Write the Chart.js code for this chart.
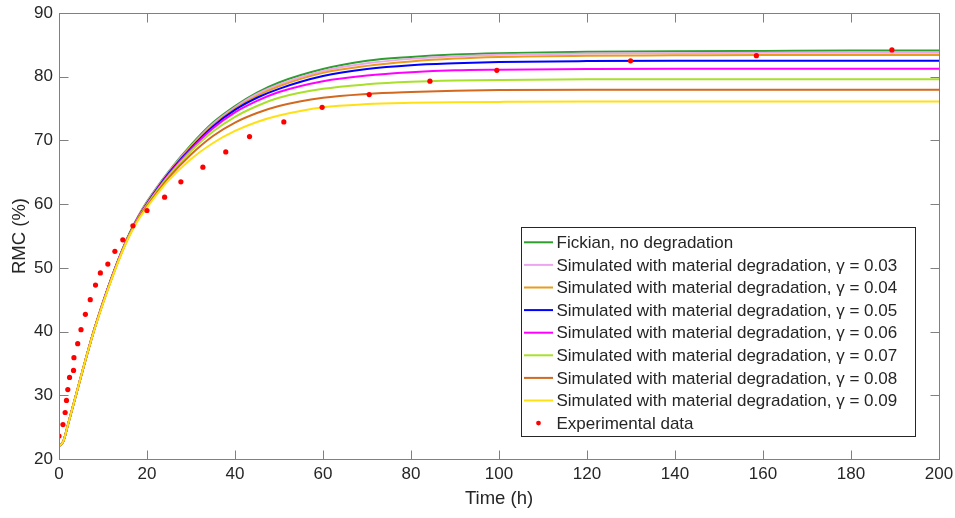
<!DOCTYPE html>
<html>
<head>
<meta charset="utf-8">
<script src="https://cdn.jsdelivr.net/npm/chart.js@4.4.1/dist/chart.umd.min.js"></script>
<style>
  html, body { margin: 0; padding: 0; background: #fff; }
  #wrap { width: 955px; height: 518px; }
</style>
</head>
<body>
<div id="wrap"><canvas id="c" width="955" height="518"></canvas></div>
<script>
// time grid of the simulated curves (h)
const times = [0, 1, 2, 4, 6, 8, 10, 12, 14, 16, 18, 20, 25, 30, 35, 40, 45, 50, 60, 70, 80, 90, 100, 120, 140, 160, 180, 200];

// simulated RMC (%) curves
const fickian = [22.0, 22.8, 25.3, 30.4, 35.5, 40.3, 44.6, 48.6, 52.2, 55.4, 58.1, 60.4, 65.2, 69.3, 72.8, 75.4, 77.5, 79.1, 81.2, 82.5, 83.1, 83.5, 83.7, 83.9, 84.0, 84.05, 84.1, 84.1];
const gamma003 = [22.0, 22.8, 25.3, 30.4, 35.5, 40.3, 44.6, 48.6, 52.2, 55.3, 58.0, 60.3, 65.1, 69.1, 72.6, 75.2, 77.3, 78.8, 80.9, 82.1, 82.8, 83.2, 83.45, 83.65, 83.7, 83.75, 83.75, 83.75];
const gamma004 = [22.0, 22.8, 25.3, 30.4, 35.5, 40.3, 44.6, 48.5, 52.1, 55.3, 58.0, 60.2, 65.0, 69.0, 72.4, 75.0, 77.0, 78.5, 80.6, 81.7, 82.4, 82.85, 83.1, 83.3, 83.35, 83.4, 83.4, 83.4];
const gamma005 = [22.0, 22.8, 25.3, 30.4, 35.5, 40.3, 44.6, 48.5, 52.1, 55.3, 57.9, 60.1, 64.9, 68.8, 72.2, 74.8, 76.7, 78.1, 80.1, 81.2, 81.8, 82.1, 82.3, 82.45, 82.5, 82.5, 82.5, 82.5];
const gamma006 = [22.0, 22.8, 25.3, 30.4, 35.5, 40.3, 44.6, 48.5, 52.1, 55.2, 57.9, 60.0, 64.7, 68.6, 71.9, 74.4, 76.2, 77.6, 79.3, 80.2, 80.7, 81.0, 81.1, 81.2, 81.25, 81.25, 81.25, 81.25];
const gamma007 = [22.0, 22.8, 25.3, 30.4, 35.5, 40.3, 44.5, 48.4, 52.0, 55.2, 57.8, 59.9, 64.5, 68.3, 71.4, 73.7, 75.4, 76.7, 78.1, 78.8, 79.2, 79.4, 79.5, 79.6, 79.6, 79.6, 79.6, 79.6];
const gamma008 = [22.0, 22.8, 25.3, 30.4, 35.5, 40.3, 44.5, 48.4, 52.0, 55.1, 57.7, 59.7, 64.2, 67.8, 70.7, 72.8, 74.3, 75.4, 76.7, 77.3, 77.6, 77.8, 77.9, 77.95, 77.95, 77.95, 77.95, 77.95];
const gamma009 = [22.0, 22.8, 25.3, 30.4, 35.5, 40.2, 44.4, 48.3, 51.9, 55.0, 57.5, 59.5, 63.8, 67.1, 69.6, 71.5, 72.9, 73.9, 75.2, 75.7, 75.9, 76.0, 76.05, 76.1, 76.1, 76.1, 76.1, 76.1];

// experimental data
const expTime = [0, 0.9, 1.4, 1.7, 2.0, 2.4, 3.3, 3.4, 4.25, 5.0, 6.0, 7.1, 8.3, 9.4, 11.1, 12.7, 14.5, 16.8, 20.0, 24.0, 27.7, 32.7, 37.9, 43.3, 51.1, 59.8, 70.5, 84.3, 99.5, 129.9, 158.5, 189.3];
const expRMC = [23.6, 25.4, 27.3, 29.2, 30.9, 32.8, 33.9, 35.9, 38.1, 40.3, 42.7, 45.0, 47.3, 49.2, 50.6, 52.6, 54.4, 56.6, 59.0, 61.1, 63.5, 65.8, 68.2, 70.6, 72.9, 75.2, 77.2, 79.3, 81.0, 82.5, 83.3, 84.2];

const curveLabels = [
  'Fickian, no degradation',
  'Simulated with material degradation, \u03b3 = 0.03',
  'Simulated with material degradation, \u03b3 = 0.04',
  'Simulated with material degradation, \u03b3 = 0.05',
  'Simulated with material degradation, \u03b3 = 0.06',
  'Simulated with material degradation, \u03b3 = 0.07',
  'Simulated with material degradation, \u03b3 = 0.08',
  'Simulated with material degradation, \u03b3 = 0.09'
];
const curveData = [fickian, gamma003, gamma004, gamma005, gamma006, gamma007, gamma008, gamma009];
const curveColors = ['#2f9e2f', '#eba6ef', '#e99c1d', '#0000ff', '#ff00ff', '#a9e02a', '#d2691e', '#ffe014'];

const FONT = "'Liberation Sans', Arial, sans-serif";
const AXIS = '#808080';
const TEXT = '#262626';

const datasets = curveData.map((ys, i) => ({
  label: curveLabels[i],
  data: times.map((t, k) => ({ x: t, y: ys[k] })),
  borderColor: curveColors[i],
  backgroundColor: curveColors[i],
  borderWidth: 2,
  pointRadius: 0,
  fill: false,
  cubicInterpolationMode: 'monotone',
  order: 20 - i
}));
datasets.push({
  label: 'Experimental data',
  type: 'scatter',
  data: expTime.map((t, k) => ({ x: t, y: expRMC[k] })),
  backgroundColor: '#ff0000',
  borderColor: '#ff0000',
  borderWidth: 0,
  pointRadius: 2.6,
  showLine: false,
  order: 0
});

// MATLAB style box with inward ticks on all four sides, plus the legend box
const boxPlugin = {
  id: 'box',
  afterDraw(chart) {
    const ctx = chart.ctx;
    const a = chart.chartArea;
    const xs = chart.scales.x, ys = chart.scales.y;
    const L = Math.round(a.left) + 0.5, R = Math.round(a.right) + 0.5;
    const T = Math.round(a.top) + 0.5, B = Math.round(a.bottom) + 0.5;
    ctx.save();
    ctx.strokeStyle = AXIS;
    ctx.lineWidth = 1;
    ctx.strokeRect(L, T, R - L, B - T);
    const tl = 9;
    ctx.beginPath();
    xs.ticks.forEach(tk => {
      const px = Math.round(xs.getPixelForValue(tk.value)) + 0.5;
      ctx.moveTo(px, B); ctx.lineTo(px, B - tl);
      ctx.moveTo(px, T); ctx.lineTo(px, T + tl);
    });
    ys.ticks.forEach(tk => {
      const py = Math.round(ys.getPixelForValue(tk.value)) + 0.5;
      ctx.moveTo(L, py); ctx.lineTo(L + tl, py);
      ctx.moveTo(R, py); ctx.lineTo(R - tl, py);
    });
    ctx.stroke();

    // legend
    const bx = 521.5, by = 227.5, bw = 394, bh = 209;
    ctx.fillStyle = '#fff';
    ctx.fillRect(bx, by, bw, bh);
    ctx.strokeStyle = '#262626';
    ctx.strokeRect(bx, by, bw, bh);
    ctx.font = '17px ' + FONT;
    ctx.textBaseline = 'middle';
    ctx.fillStyle = TEXT;
    const rowH = 22.6;
    const labels = curveLabels.concat(['Experimental data']);
    labels.forEach((lab, i) => {
      const cy = 242.3 + i * rowH;
      if (i < curveLabels.length) {
        ctx.strokeStyle = curveColors[i];
        ctx.lineWidth = 2;
        ctx.beginPath();
        ctx.moveTo(524, cy); ctx.lineTo(553, cy);
        ctx.stroke();
      } else {
        ctx.fillStyle = '#ff0000';
        ctx.beginPath();
        ctx.arc(538.5, cy, 2.4, 0, Math.PI * 2);
        ctx.fill();
      }
      ctx.fillStyle = TEXT;
      ctx.fillText(lab, 556.5, cy + 1);
    });
    ctx.restore();
  }
};

new Chart(document.getElementById('c').getContext('2d'), {
  type: 'line',
  data: { datasets: datasets },
  options: {
    responsive: false,
    animation: false,
    layout: { padding: { left: 0, right: 16, top: 13, bottom: 0 } },
    plugins: {
      legend: { display: false },
      tooltip: { enabled: false }
    },
    scales: {
      x: {
        type: 'linear',
        min: 0, max: 200,
        afterFit: s => { s.height = 59; s.paddingLeft = 0; s.paddingRight = 0; },
        grid: { display: false, drawTicks: false },
        border: { display: false },
        ticks: { stepSize: 20, color: TEXT, font: { family: FONT, size: 17 }, padding: 5, maxRotation: 0 },
        title: { display: true, text: 'Time (h)', color: TEXT, font: { family: FONT, size: 18.5 }, padding: { top: 0, bottom: 8 } }
      },
      y: {
        type: 'linear',
        min: 20, max: 90,
        afterFit: s => { s.width = 59; s.paddingTop = 0; s.paddingBottom = 0; },
        grid: { display: false, drawTicks: false },
        border: { display: false },
        ticks: { stepSize: 10, color: TEXT, font: { family: FONT, size: 17 }, padding: 6 },
        title: { display: true, text: 'RMC (%)', color: TEXT, font: { family: FONT, size: 18.5 }, padding: { top: 9, bottom: 0 } }
      }
    }
  },
  plugins: [boxPlugin]
});
</script>
</body>
</html>
